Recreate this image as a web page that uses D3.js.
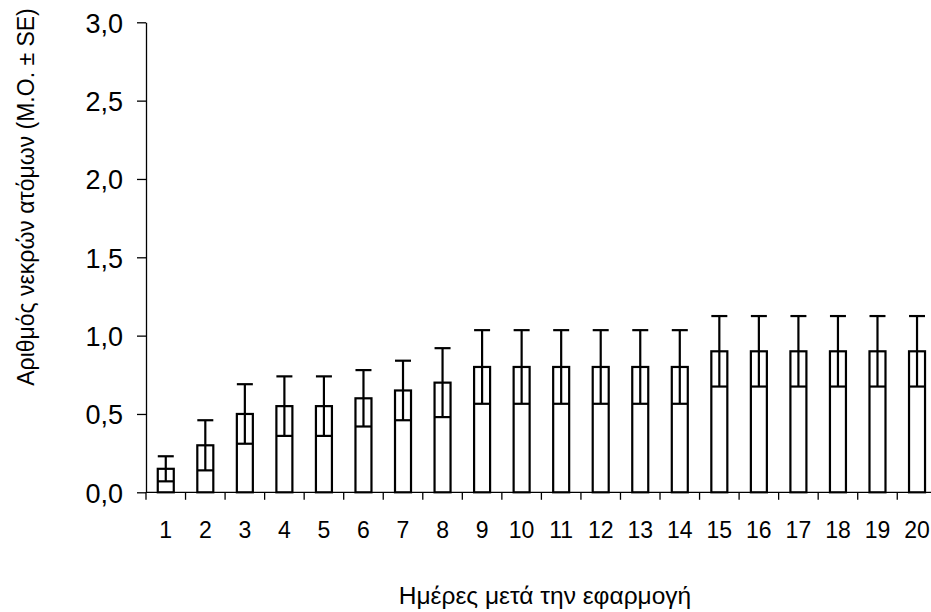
<!DOCTYPE html>
<html>
<head>
<meta charset="utf-8">
<script src="https://cdn.jsdelivr.net/npm/d3@7"></script>
<style>
  html, body { margin: 0; padding: 0; background: #fff; }
  svg { display: block; font-family: "Liberation Sans", Arial, sans-serif; }
</style>
</head>
<body>
<svg id="chart" width="931" height="612"></svg>
<script>
const days = ["1","2","3","4","5","6","7","8","9","10","11","12","13","14","15","16","17","18","19","20"];
const means = [0.15,0.30,0.50,0.55,0.55,0.60,0.65,0.70,0.80,0.80,0.80,0.80,0.80,0.80,0.90,0.90,0.90,0.90,0.90,0.90];
const se = [0.08,0.16,0.19,0.19,0.19,0.18,0.19,0.22,0.235,0.235,0.235,0.235,0.235,0.235,0.225,0.225,0.225,0.225,0.225,0.225];
const yTicks = [0, 0.5, 1.0, 1.5, 2.0, 2.5, 3.0];
const xTitle = "Ημέρες μετά την εφαρμογή";
const yTitle = "Αριθμός νεκρών ατόμων (M.O. ± SE)";

(function () {
const svg = d3.select("#chart");
const plotLeft = 146, plotTop = 22.3, plotBottom = 492.3;
const band = 39.54;

const x = d3.scaleBand().domain(days).range([plotLeft, plotLeft + band * days.length]).paddingInner(0).paddingOuter(0);
const y = d3.scaleLinear().domain([0, 3]).range([plotBottom, plotTop]);
const fmt = d => d.toFixed(1).replace(".", ",");

// Y axis
const yAxis = d3.axisLeft(y).tickValues(yTicks).tickFormat(fmt).tickSize(9).tickSizeOuter(0).tickPadding(14);
const gy = svg.append("g").attr("transform", `translate(${plotLeft},0)`).call(yAxis);
gy.attr("font-family", null).attr("font-size", null);
gy.select(".domain").attr("stroke", "#000").attr("stroke-width", 1.3);
gy.selectAll(".tick line").attr("stroke", "#000").attr("stroke-width", 1.3);
gy.selectAll(".tick text").attr("fill", "#000").style("font-size", "27px").attr("dy", "0.36em");

// X axis baseline
const xAxisG = svg.append("g");
xAxisG.append("line")
  .attr("x1", plotLeft).attr("x2", 931)
  .attr("y1", plotBottom).attr("y2", plotBottom)
  .attr("stroke", "#000").attr("stroke-width", 1.3);
const boundaries = days.map(d => x(d));
xAxisG.selectAll("line.xt").data(boundaries).join("line")
  .attr("class", "xt")
  .attr("x1", d => d).attr("x2", d => d)
  .attr("y1", plotBottom).attr("y2", plotBottom + 7.5)
  .attr("stroke", "#000").attr("stroke-width", 1.3);
xAxisG.selectAll("text.xl").data(days).join("text")
  .attr("class", "xl")
  .attr("x", d => x(d) + x.bandwidth() / 2)
  .attr("y", 537.5)
  .attr("text-anchor", "middle")
  .style("font-size", "23px")
  .attr("fill", "#000")
  .text(d => d);

// Bars
const barW = 16;
const data = days.map((d, i) => ({ day: d, m: means[i], s: se[i] }));
const g = svg.append("g");
g.selectAll("rect.bar").data(data).join("rect")
  .attr("class", "bar")
  .attr("x", d => x(d.day) + x.bandwidth() / 2 - barW / 2)
  .attr("y", d => y(d.m))
  .attr("width", barW)
  .attr("height", d => y(0) - y(d.m))
  .attr("fill", "#fff")
  .attr("stroke", "#000")
  .attr("stroke-width", 2.2);

// Error bars
const capW = 16;
const cx = d => x(d.day) + x.bandwidth() / 2;
const eb = g.selectAll("g.eb").data(data).join("g").attr("class", "eb");
eb.append("line")
  .attr("x1", cx).attr("x2", cx)
  .attr("y1", d => y(d.m + d.s))
  .attr("y2", d => y(d.m - d.s))
  .attr("stroke", "#000").attr("stroke-width", 2.2);
eb.append("line")
  .attr("x1", d => cx(d) - capW / 2)
  .attr("x2", d => cx(d) + capW / 2)
  .attr("y1", d => y(d.m + d.s))
  .attr("y2", d => y(d.m + d.s))
  .attr("stroke", "#000").attr("stroke-width", 2.2);
eb.append("line")
  .attr("x1", d => cx(d) - capW / 2)
  .attr("x2", d => cx(d) + capW / 2)
  .attr("y1", d => y(d.m - d.s))
  .attr("y2", d => y(d.m - d.s))
  .attr("stroke", "#000").attr("stroke-width", 2.2);

// Titles
svg.append("text")
  .attr("x", 545).attr("y", 603.5)
  .attr("text-anchor", "middle")
  .style("font-size", "24.5px")
  .attr("fill", "#000")
  .text(xTitle);

svg.append("text")
  .attr("transform", "translate(34,197) rotate(-90)")
  .attr("text-anchor", "middle")
  .style("font-size", "23px")
  .attr("fill", "#000")
  .text(yTitle);
})();
</script>
</body>
</html>
